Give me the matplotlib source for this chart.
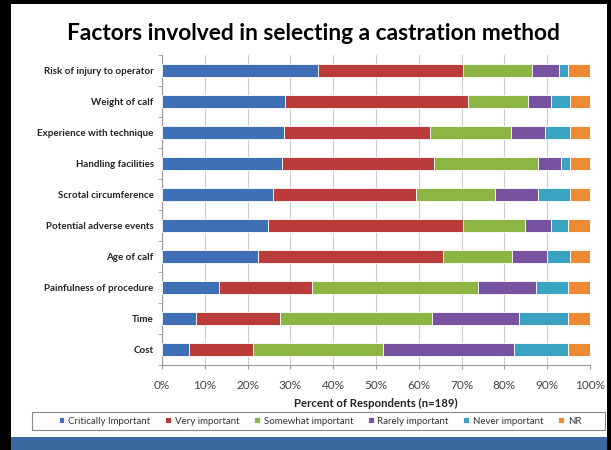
import matplotlib.pyplot as plt
from matplotlib.patches import Rectangle
import numpy as np

plt.rcParams['font.family'] = ['Lato', 'DejaVu Sans']

# Данные (проценты, сверху вниз)
factors = ['Risk of injury to operator', 'Weight of calf', 'Experience with technique',
           'Handling facilities', 'Scrotal circumference', 'Potential adverse events',
           'Age of calf', 'Painfulness of procedure', 'Time', 'Cost']
series = ['Critically Important', 'Very important', 'Somewhat important',
          'Rarely important', 'Never important', 'NR']

critically = [36.4, 28.7, 28.6, 28.1, 26.0, 24.8, 22.4, 13.3, 7.9, 6.4]
very = [34.0, 42.7, 33.9, 35.5, 33.3, 45.6, 43.3, 21.7, 19.7, 14.8]
somewhat = [16.0, 14.0, 19.0, 24.3, 18.5, 14.4, 16.0, 38.8, 35.6, 30.4]
rarely = [6.4, 5.6, 8.0, 5.3, 10.1, 6.2, 8.3, 13.6, 20.1, 30.6]
never = [2.1, 4.3, 5.8, 2.1, 7.4, 3.9, 5.3, 7.4, 11.6, 12.7]
nr = [5.1, 4.7, 4.7, 4.7, 4.7, 5.1, 4.7, 5.2, 5.1, 5.1]

colors = ['#3F6FB5', '#B93C3A', '#8DB543', '#7752A0', '#3AA3C2', '#EE8A34']

fig = plt.figure(figsize=(6.11, 4.5), dpi=100, facecolor='black')
W, H = 611, 450

# Рамка слайда
fig.patches.append(Rectangle((11 / W, 1 - 437 / H), (607 - 11) / W, (437 - 4) / H,
                             transform=fig.transFigure, facecolor='white', edgecolor='none', zorder=-2))
fig.patches.append(Rectangle((11 / W, 0), (607 - 11) / W, 13 / H,
                             transform=fig.transFigure, facecolor='#3B68A0', edgecolor='none', zorder=-2))
# рамка легенды
fig.patches.append(Rectangle((32 / W, 1 - 430 / H), (605 - 32) / W, 18 / H,
                             transform=fig.transFigure, facecolor='white', edgecolor='#888888',
                             linewidth=0.8, zorder=-1))

ax = fig.add_axes([162 / W, 1 - 365 / H, (590 - 162) / W, (365 - 55) / H])
ax.set_facecolor('white')

y = np.arange(len(factors))
data = [critically, very, somewhat, rarely, never, nr]
left = np.zeros(len(factors))
for vals, name, c in zip(data, series, colors):
    ax.barh(y, vals, left=left, height=0.42, color=c, edgecolor='white',
            linewidth=0.6, label=name, zorder=3)
    left += np.array(vals)

ax.set_ylim(len(factors) - 0.5, -0.5)
ax.set_xlim(0, 100)
ax.set_xticks(range(0, 101, 10))
ax.set_xticklabels([f'{v}%' for v in range(0, 101, 10)], fontsize=8.5, color='#444444')
ax.set_yticks(y)
ax.set_yticklabels(factors, fontsize=7, fontweight='bold', color='#222222')
ax.tick_params(axis='y', length=0, pad=6)
ax.set_yticks(np.arange(-0.5, len(factors), 1), minor=True)
ax.tick_params(axis='y', which='minor', length=3, color='#999999')
ax.tick_params(axis='x', length=3, color='#999999', pad=8)
ax.grid(axis='x', color='#cccccc', linewidth=0.8, zorder=0)
for s in ['top', 'right']:
    ax.spines[s].set_visible(False)
for s in ['left', 'bottom']:
    ax.spines[s].set_color('#999999')

ax.set_xlabel('Percent of Respondents (n=189)', fontsize=8.2, fontweight='bold',
              color='#222222', labelpad=5)

fig.text(313 / W, 1 - 33 / H, 'Factors involved in selecting a castration method',
         fontsize=16.4, fontweight='bold', ha='center', va='center')

fig.legend(loc='center', bbox_to_anchor=(320 / W, 1 - 421 / H),
           ncol=6, fontsize=7, frameon=False,
           handlelength=0.6, handleheight=0.6, handletextpad=0.4,
           columnspacing=1.5, labelcolor='#333333')

plt.savefig('out.png', dpi=100, facecolor=fig.get_facecolor())
